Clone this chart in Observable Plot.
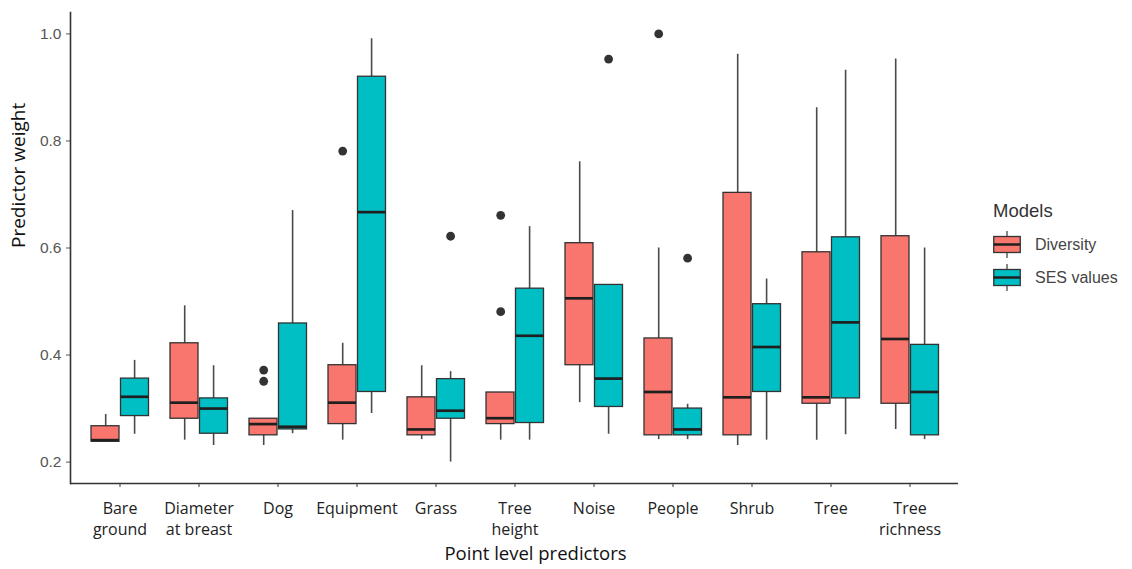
<!DOCTYPE html>
<html>
<head>
<meta charset="utf-8">
<script src="https://cdn.jsdelivr.net/npm/d3@7"></script>
<script src="https://cdn.jsdelivr.net/npm/@observablehq/plot@0.6"></script>
<style>
  html, body { margin: 0; padding: 0; background: #fff; }
  #wrap { position: relative; width: 1132px; height: 569px; overflow: hidden; }
  #legend { position: absolute; left: 993px; top: 200px; font-family: "Liberation Sans", Arial, sans-serif; }
  #legend .title { font-size: 18.5px; color: #333; margin-bottom: 6px; line-height: 22px; }
  #legend .row { display: flex; align-items: center; height: 33px; }
  #legend .row svg { display: block; }
  #legend .row span { font-size: 16px; color: #444; margin-left: 14px; }
</style>
</head>
<body>
<div id="wrap"><div id="chart"></div><div id="legend"></div></div>
<script>
const categories = ["Bare ground","Diameter at breast","Dog","Equipment","Grass","Tree height","Noise","People","Shrub","Tree","Tree richness"];
const tickLabels = ["Bare\nground","Diameter\nat breast","Dog","Equipment","Grass","Tree\nheight","Noise","People","Shrub","Tree","Tree\nrichness"];
const models = ["Diversity","SES values"];
const modelColors = ["#F8766D","#00BFC4"];

// Diversity model: whisker low, Q1, median, Q3, whisker high
const divLo  = [0.237, 0.241, 0.231, 0.241, 0.242, 0.241, 0.311, 0.242, 0.231, 0.241, 0.261];
const divQ1  = [0.238, 0.281, 0.250, 0.271, 0.250, 0.271, 0.381, 0.250, 0.250, 0.309, 0.309];
const divMed = [0.241, 0.311, 0.271, 0.311, 0.261, 0.282, 0.506, 0.331, 0.321, 0.321, 0.430];
const divQ3  = [0.267, 0.422, 0.281, 0.381, 0.321, 0.330, 0.609, 0.431, 0.703, 0.592, 0.622];
const divHi  = [0.289, 0.492, 0.281, 0.422, 0.380, 0.330, 0.761, 0.600, 0.962, 0.862, 0.953];

// SES values model
const sesLo  = [0.252, 0.231, 0.253, 0.291, 0.200, 0.241, 0.252, 0.242, 0.241, 0.251, 0.242];
const sesQ1  = [0.286, 0.253, 0.261, 0.331, 0.281, 0.273, 0.303, 0.250, 0.331, 0.319, 0.250];
const sesMed = [0.322, 0.300, 0.266, 0.667, 0.296, 0.436, 0.356, 0.261, 0.415, 0.461, 0.331];
const sesQ3  = [0.356, 0.319, 0.459, 0.920, 0.355, 0.524, 0.531, 0.300, 0.495, 0.620, 0.419];
const sesHi  = [0.390, 0.380, 0.670, 0.991, 0.369, 0.640, 0.531, 0.308, 0.542, 0.932, 0.600];

// Outliers
const outlierCats   = ["Dog","Dog","Equipment","Tree height","Tree height","People","Grass","Noise","People"];
const outlierModels = ["Diversity","Diversity","Diversity","Diversity","Diversity","Diversity","SES values","SES values","SES values"];
const outlierValues = [0.372, 0.351, 0.781, 0.661, 0.481, 1.000, 0.622, 0.953, 0.581];

const xTitle = "Point level predictors";
const yTitle = "Predictor weight";
const yTicks = [0.2, 0.4, 0.6, 0.8, 1.0];

function rowsFor(model, lo, q1, med, q3, hi) {
  return categories.map((c, i) => ({cat: c, model, lo: lo[i], q1: q1[i], med: med[i], q3: q3[i], hi: hi[i]}));
}
const divRows = rowsFor("Diversity", divLo, divQ1, divMed, divQ3, divHi);
const sesRows = rowsFor("SES values", sesLo, sesQ1, sesMed, sesQ3, sesHi);
const outliers = outlierCats.map((c, i) => ({cat: c, model: outlierModels[i], v: outlierValues[i]}));

const allVals = [...divLo, ...divHi, ...sesLo, ...sesHi, ...outlierValues];
const [vmin, vmax] = d3.extent(allVals);
const pad = 0.05 * (vmax - vmin);
const yDomain = [vmin - pad, vmax + pad];

const labelOf = new Map(categories.map((c, i) => [c, tickLabels[i]]));

const style = {
  Diversity: {insetLeft: 11, insetRight: 40, dx: -14.3},
  "SES values": {insetLeft: 40.5, insetRight: 10.5, dx: 14.6}
};

function boxMarks(rows, model) {
  const s = style[model];
  return [
    Plot.ruleX(rows, {x: "cat", y1: "lo", y2: "hi", dx: s.dx, stroke: "#4a4a4a", strokeWidth: 1.6}),
    Plot.barY(rows, {x: "cat", y1: "q1", y2: "q3", fill: "model", stroke: "#333", strokeWidth: 1.3, insetLeft: s.insetLeft, insetRight: s.insetRight}),
    Plot.tickY(rows, {x: "cat", y: "med", stroke: "#1f1f1f", strokeWidth: 2.7, insetLeft: s.insetLeft, insetRight: s.insetRight}),
    Plot.dot(outliers.filter(d => d.model === model), {x: "cat", y: "v", dx: s.dx, r: 4.4, fill: "#333", stroke: null})
  ];
}

const chart = Plot.plot({
  width: 1132,
  height: 569,
  marginLeft: 70,
  marginRight: 174,
  marginTop: 12,
  marginBottom: 86,
  style: {fontFamily: "'Open Sans', sans-serif", background: "white", overflow: "visible"},
  x: {domain: categories, paddingInner: 0, paddingOuter: 0.1, axis: null},
  y: {domain: yDomain, axis: null},
  color: {domain: models, range: modelColors},
  marks: [
    ...boxMarks(divRows, "Diversity"),
    ...boxMarks(sesRows, "SES values"),
    Plot.axisY(yTicks, {tickSize: 4, tickPadding: 5, tickFormat: d3.format(".1f"), label: null,
      fontFamily: "'Liberation Sans', Arial, sans-serif", fontSize: 15.5, color: "#555"}),
    Plot.axisX({tickSize: 4, tickPadding: 12, tickFormat: d => labelOf.get(d), label: null,
      fontSize: 16, lineHeight: 1.3, color: "#222", stroke: "#333"}),
    Plot.ruleY([yDomain[0]], {stroke: "#333", strokeWidth: 1.6}),
    Plot.frame({anchor: "left", stroke: "#333", strokeWidth: 1.6}),
    Plot.text([xTitle], {frameAnchor: "bottom", dy: 71, dx: 21, fontSize: 18.5, fill: "#111", lineAnchor: "middle"}),
    Plot.text([yTitle], {frameAnchor: "left", dx: -52, rotate: -90, fontSize: 19, fill: "#111", lineAnchor: "middle"})
  ]
});
document.getElementById("chart").appendChild(chart);

// Legend (ggplot-style boxplot keys)
const legend = document.getElementById("legend");
legend.innerHTML = `<div class="title">Models</div>` + models.map((m, i) => `
  <div class="row">
    <svg width="28" height="33" viewBox="0 0 28 33">
      <line x1="14" y1="3" x2="14" y2="30" stroke="#555" stroke-width="1.4"/>
      <rect x="0.75" y="8.5" width="26.5" height="16" fill="${modelColors[i]}" stroke="#333" stroke-width="1.3"/>
      <line x1="0.75" y1="16.5" x2="27.25" y2="16.5" stroke="#1f1f1f" stroke-width="2.5"/>
    </svg>
    <span>${m}</span>
  </div>`).join("");
</script>
</body>
</html>
